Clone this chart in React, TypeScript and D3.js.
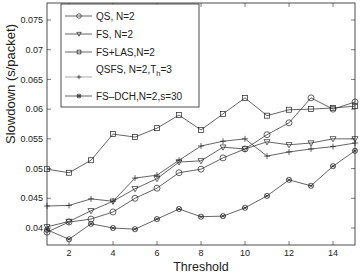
import React from 'react';
import * as d3 from 'd3';

const thresholds = [1, 2, 3, 4, 5, 6, 7, 8, 9, 10, 11, 12, 13, 14, 15];
const qs = [0.0393, 0.041, 0.0415, 0.0427, 0.045, 0.0467, 0.0493, 0.0499, 0.0518, 0.0533, 0.0557, 0.0577, 0.0619, 0.06, 0.0612];
const fs = [0.0402, 0.0411, 0.0429, 0.0445, 0.0466, 0.0483, 0.0511, 0.0513, 0.0536, 0.0533, 0.0545, 0.054, 0.0543, 0.055, 0.055];
const fsLas = [0.0499, 0.0493, 0.0514, 0.0558, 0.0553, 0.0568, 0.059, 0.0565, 0.0592, 0.0619, 0.0589, 0.0599, 0.06, 0.0602, 0.0605];
const qsfs = [0.0437, 0.0438, 0.0449, 0.0445, 0.0484, 0.0489, 0.0514, 0.0538, 0.0546, 0.055, 0.0521, 0.0528, 0.0533, 0.0537, 0.0543];
const fsDch = [0.0397, 0.0381, 0.0407, 0.04, 0.0398, 0.0415, 0.0432, 0.0419, 0.042, 0.0434, 0.0454, 0.0481, 0.0471, 0.0504, 0.053];
const xTicks = [2, 4, 6, 8, 10, 12, 14];
const yTicks = [0.04, 0.045, 0.05, 0.055, 0.06, 0.065, 0.07, 0.075];
const yTickLabels = ['0.04', '0.045', '0.05', '0.055', '0.06', '0.065', '0.07', '0.075'];

const series = [
  { name: 'QS, N=2', values: qs, marker: 'circle' },
  { name: 'FS, N=2', values: fs, marker: 'tri' },
  { name: 'FS+LAS,N=2', values: fsLas, marker: 'square' },
  { name: 'QSFS', values: qsfs, marker: 'plus' },
  { name: 'FS\u2013DCH,N=2,s=30', values: fsDch, marker: 'star' },
];

const W = 360, H = 275;
const left = 47, right = 355, top = 3, bottom = 245;
const ink = '#222';

function Marker({ type, x, y, s = 1 }: { type: string; x: number; y: number; s?: number }) {
  const sw = 0.7;
  if (type === 'circle') return <circle cx={x} cy={y} r={3 * s} fill="none" stroke={ink} strokeWidth={sw} />;
  if (type === 'square') return <rect x={x - 2.5 * s} y={y - 2.5 * s} width={5 * s} height={5 * s} fill="none" stroke={ink} strokeWidth={sw} />;
  if (type === 'tri') return <path d={`M${x - 3 * s},${y - 2.2 * s}L${x + 3 * s},${y - 2.2 * s}L${x},${y + 3 * s}Z`} fill="none" stroke={ink} strokeWidth={sw} />;
  if (type === 'plus') return <path d={`M${x - 3 * s},${y}H${x + 3 * s}M${x},${y - 3 * s}V${y + 3 * s}`} stroke={ink} strokeWidth={sw} />;
  const r = 2.6 * s;
  return (
    <g>
      <circle cx={x} cy={y} r={r} fill="none" stroke={ink} strokeWidth={sw} />
      <path d={`M${x - r * 0.75},${y - r * 0.75}L${x + r * 0.75},${y + r * 0.75}M${x - r * 0.75},${y + r * 0.75}L${x + r * 0.75},${y - r * 0.75}M${x - r},${y}H${x + r}`} stroke={ink} strokeWidth={0.6} />
    </g>
  );
}

export default function App() {
  const x = d3.scaleLinear().domain([1, 15]).range([left, right]);
  const y = d3.scaleLinear().domain([0.03714, 0.07786]).range([bottom, top]);
  const line = d3.line<number>().x((_, i) => x(thresholds[i])).y(d => y(d));

  const legendY = [16, 34, 52, 77, 96];

  return (
    <svg width={W} height={H} style={{ position: 'absolute', left: 0, top: 0, fontFamily: 'Liberation Sans, Arial, sans-serif' }}>
      <rect width={W} height={H} fill="#fff" />
      {/* ticks */}
      {xTicks.map(t => (
        <g key={'x' + t}>
          <line x1={x(t)} x2={x(t)} y1={bottom} y2={bottom - 4} stroke={ink} strokeWidth={0.6} />
          <line x1={x(t)} x2={x(t)} y1={top} y2={top + 4} stroke={ink} strokeWidth={0.6} />
          <text x={x(t)} y={256} fontSize={9} textAnchor="middle" fill={ink}>{t}</text>
        </g>
      ))}
      {yTicks.map((t, i) => (
        <g key={'y' + t}>
          <line x1={left} x2={left + 4} y1={y(t)} y2={y(t)} stroke={ink} strokeWidth={0.6} />
          <line x1={right} x2={right - 4} y1={y(t)} y2={y(t)} stroke={ink} strokeWidth={0.6} />
          <text x={left - 4} y={y(t) + 3.2} fontSize={9} textAnchor="end" fill={ink}>{yTickLabels[i]}</text>
        </g>
      ))}
      {/* series */}
      {series.map(s => (
        <g key={s.name}>
          <path d={line(s.values) || ''} fill="none" stroke={ink} strokeWidth={0.7} />
          {s.values.map((v, i) => <Marker key={i} type={s.marker} x={x(thresholds[i])} y={y(v)} />)}
        </g>
      ))}
      <rect x={left} y={top} width={right - left} height={bottom - top} fill="none" stroke={ink} strokeWidth={0.8} />
      {/* legend */}
      <rect x={61} y={4} width={138} height={103} fill="#fff" stroke={ink} strokeWidth={0.8} />
      {series.map((s, i) => (
        <g key={'l' + s.name}>
          <line x1={65} x2={92} y1={legendY[i]} y2={legendY[i]} stroke={i === 3 ? '#888' : ink} strokeWidth={0.7} />
          <Marker type={s.marker} x={79} y={legendY[i]} s={0.75} />
          {i === 3 ? (
            <text x={96} y={legendY[i] - 4} fontSize={10} fill={ink}>
              QSFS, N=2,T<tspan dy={3} fontSize={7.5}>h</tspan><tspan dy={-3}>=3</tspan>
            </text>
          ) : (
            <text x={96} y={legendY[i] + 3.5} fontSize={10} fill={ink}>{s.name}</text>
          )}
        </g>
      ))}
      {/* axis labels */}
      <text x={201} y={270.5} fontSize={12.5} textAnchor="middle" fill={ink}>Threshold</text>
      <text transform={`translate(15,84) rotate(-90)`} fontSize={13} textAnchor="middle" fill={ink}>Slowdown (s/packet)</text>
    </svg>
  );
}
